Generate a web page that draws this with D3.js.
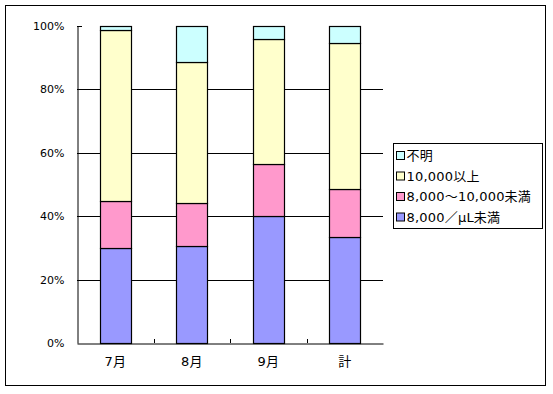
<!DOCTYPE html>
<html>
<head>
<meta charset="utf-8">
<script src="https://cdn.jsdelivr.net/npm/d3@7"></script>
<style>
  body { margin: 0; background: #fff; }
  text { font-family: "DejaVu Sans", "Noto Sans CJK JP", sans-serif; fill: #000; }
</style>
</head>
<body>
<script>
// data (percent of each month)
var months = ["7月", "8月", "9月", "計"];
var seriesNames = ["8,000／μL未満", "8,000～10,000未満", "10,000以上", "不明"];
var under8000 = [30.0, 30.7, 40.2, 33.3];
var from8000to10000 = [14.8, 13.4, 16.2, 15.2];
var over10000 = [53.8, 44.4, 39.4, 46.0];
var unknown = [1.4, 11.5, 4.2, 5.5];
var yTicks = [0, 20, 40, 60, 80, 100];

var colors = ["#9999FF", "#FF99CC", "#FFFFCC", "#CCFFFF"];

var W = 553, H = 394;
var plot = { left: 77, right: 383, top: 26, bottom: 343 };

var svg = d3.select("body").append("svg")
    .attr("width", W)
    .attr("height", H);

// outer frame
svg.append("rect")
    .attr("x", 5.5).attr("y", 5.5)
    .attr("width", 540).attr("height", 380)
    .attr("fill", "#fff")
    .attr("stroke", "#000");

var x = d3.scaleBand()
    .domain(months)
    .range([plot.left, plot.right])
    .padding(0);

var y = d3.scaleLinear()
    .domain([0, 100])
    .range([plot.bottom, plot.top]);

// stack the series
var rows = months.map(function(m, i) {
  return { month: m, s0: under8000[i], s1: from8000to10000[i], s2: over10000[i], s3: unknown[i] };
});
var stack = d3.stack().keys(["s0", "s1", "s2", "s3"]);
var layers = stack(rows);

// gridlines
svg.append("g")
    .selectAll("line")
    .data(yTicks.filter(function(d) { return d > 0 && d < 100; }))
    .enter().append("line")
    .attr("x1", plot.left).attr("x2", plot.right)
    .attr("y1", function(d) { return Math.round(y(d)) + 0.5; })
    .attr("y2", function(d) { return Math.round(y(d)) + 0.5; })
    .attr("stroke", "#000");

// bars
var barW = x.bandwidth() * 0.4;
svg.append("g")
    .selectAll("g")
    .data(layers)
    .enter().append("g")
    .attr("fill", function(d, i) { return colors[i]; })
    .selectAll("rect")
    .data(function(d) { return d; })
    .enter().append("rect")
    .attr("x", function(d) { return Math.round(x(d.data.month) + (x.bandwidth() - barW) / 2) + 0.5; })
    .attr("width", Math.round(barW))
    .attr("y", function(d) { return Math.round(y(d[1])) + 0.5; })
    .attr("height", function(d) { return Math.round(y(d[0])) - Math.round(y(d[1])); })
    .attr("stroke", "#000")
    .attr("stroke-width", 1.2);

// y axis
var yAxis = svg.append("g")
    .attr("transform", "translate(" + (plot.left + 0.5) + ",0)")
    .call(d3.axisLeft(y)
      .tickValues(yTicks)
      .tickSize(0)
      .tickPadding(13)
      .tickFormat(function(d) { return d + "%"; }));
yAxis.select(".domain").attr("stroke", "#000");
yAxis.selectAll("text").style("font-size", "11px").style("font-family", "DejaVu Sans");

// small inside tick at 100%
svg.append("line")
    .attr("x1", plot.left).attr("x2", plot.left + 5)
    .attr("y1", y(100) + 0.5).attr("y2", y(100) + 0.5)
    .attr("stroke", "#000");

// x axis
var xAxis = svg.append("g")
    .attr("transform", "translate(0," + (plot.bottom + 0.5) + ")")
    .call(d3.axisBottom(x).tickSize(0).tickPadding(13));
xAxis.select(".domain").attr("stroke", "#000");
xAxis.selectAll("text").style("font-size", "13px").style("font-family", "DejaVu Sans, Noto Sans CJK JP");

// category boundary ticks (inside)
svg.append("g")
    .selectAll("line")
    .data(months.slice(1))
    .enter().append("line")
    .attr("x1", function(d) { return Math.round(x(d)) + 0.5; })
    .attr("x2", function(d) { return Math.round(x(d)) + 0.5; })
    .attr("y1", plot.bottom - 4).attr("y2", plot.bottom)
    .attr("stroke", "#000");

// legend
var legend = svg.append("g").attr("transform", "translate(393.5,143.5)");
legend.append("rect")
    .attr("width", 149).attr("height", 85)
    .attr("fill", "#fff").attr("stroke", "#000");

var legendOrder = [3, 2, 1, 0];
var item = legend.selectAll(".item")
    .data(legendOrder)
    .enter().append("g")
    .attr("class", "item")
    .attr("transform", function(d, i) { return "translate(0," + (12 + i * 20.5) + ")"; });

item.append("rect")
    .attr("x", 3).attr("y", -4)
    .attr("width", 8).attr("height", 8)
    .attr("fill", function(d) { return colors[d]; })
    .attr("stroke", "#000");

item.append("text")
    .attr("x", 13)
    .attr("dy", "0.36em")
    .style("font-size", "13px")
    .style("letter-spacing", "0.2px")
    .text(function(d) { return seriesNames[d]; });
</script>
</body>
</html>
